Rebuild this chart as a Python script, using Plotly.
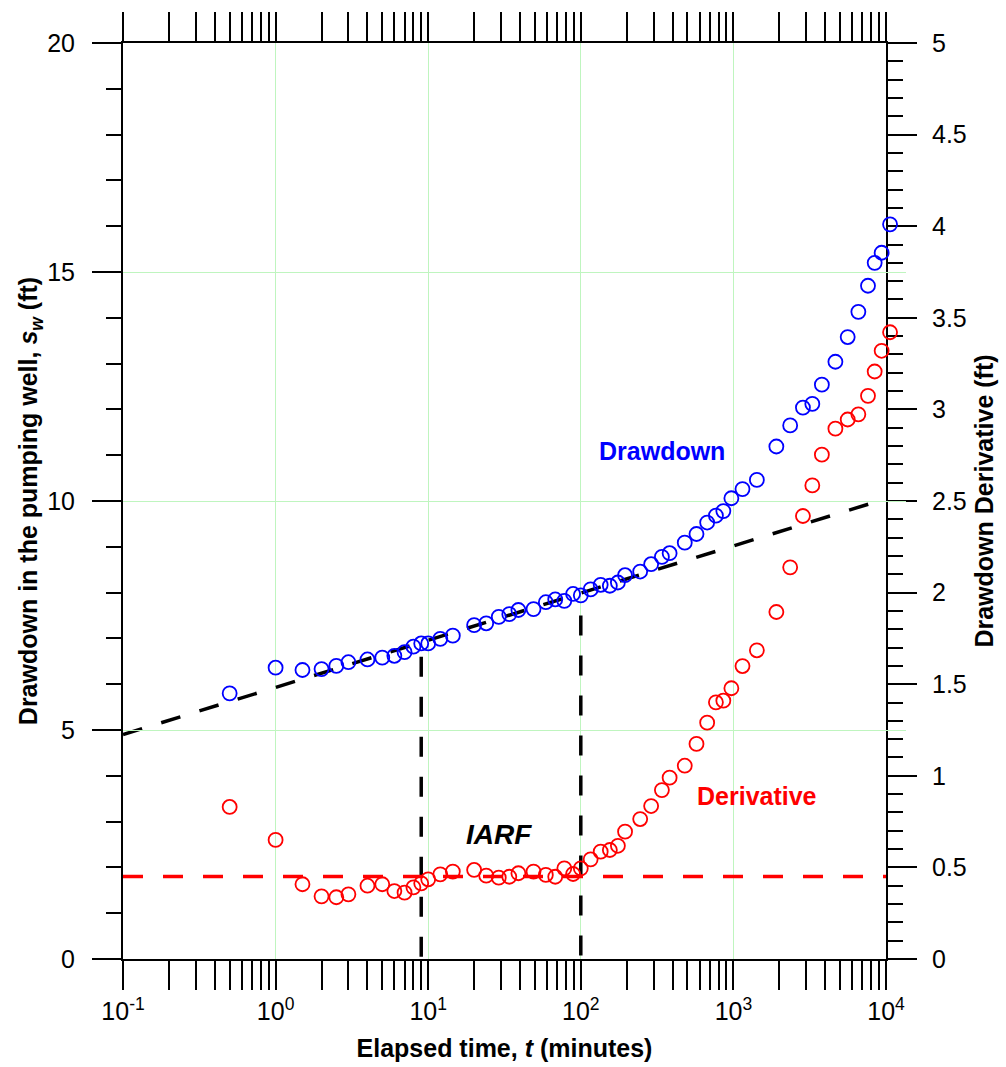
import math
import plotly.graph_objects as go

# ---------------- data ----------------
time_min = [0.5, 1, 1.5, 2, 2.5, 3, 4, 5, 6, 7,
            8, 9, 10, 12, 14.5, 20, 24, 29, 34, 39,
            49, 59, 68, 78, 89, 100, 116, 135, 155, 175,
            195, 245, 289, 340, 382, 480, 573, 673, 768, 859,
            970, 1147, 1425, 1912, 2355, 2855, 3290, 3800, 4660, 5610,
            6590, 7620, 8430, 9365, 10630]

drawdown_ft = [5.80, 6.36, 6.31, 6.33, 6.40, 6.48, 6.54, 6.58, 6.62, 6.70,
               6.82, 6.89, 6.89, 6.99, 7.06, 7.29, 7.33, 7.47, 7.53, 7.62,
               7.64, 7.79, 7.85, 7.82, 7.97, 7.94, 8.07, 8.17, 8.15, 8.22,
               8.38, 8.46, 8.62, 8.78, 8.86, 9.09, 9.28, 9.53, 9.68, 9.78,
               10.06, 10.26, 10.46, 11.19, 11.65, 12.04, 12.12, 12.54, 13.04, 13.58,
               14.13, 14.70, 15.20, 15.42, 16.04]

derivative_ft = [0.830, 0.650, 0.408, 0.342, 0.337, 0.353, 0.400, 0.408, 0.371, 0.362,
                 0.391, 0.413, 0.435, 0.462, 0.477, 0.486, 0.455, 0.444, 0.449, 0.468,
                 0.477, 0.459, 0.449, 0.495, 0.464, 0.495, 0.544, 0.586, 0.595, 0.618,
                 0.695, 0.764, 0.835, 0.922, 0.990, 1.055, 1.174, 1.290, 1.401, 1.410,
                 1.478, 1.599, 1.685, 1.894, 2.138, 2.418, 2.585, 2.753, 2.895, 2.945,
                 2.973, 3.074, 3.207, 3.320, 3.421]

# semilog straight line fit (drawdown axis)
fit_t = [0.1, 10000]
fit_s = [4.90, 10.05]

# IARF derivative level (derivative axis)
iarf_level_t = [0.1, 10000]
iarf_level = [0.45, 0.45]

# IARF bounds (vertical dashed lines): time and top drawdown
iarf_bound_t = [9, 100]
iarf_bound_top = [6.6, 7.5]

x_tickvals = [0.1, 1, 10, 100, 1000, 10000]
x_ticktext = ["10<sup>-1</sup>", "10<sup>0</sup>", "10<sup>1</sup>",
              "10<sup>2</sup>", "10<sup>3</sup>", "10<sup>4</sup>"]

# ---------------- figure ----------------
FONT = "Liberation Sans, Arial, sans-serif"
GRID = "#bff5bf"
DASH = "20px,20px"

W, H = 1006, 1067
ML, MR, MT, MB = 123, 100, 43, 108
AXIS_RIGHT_PX = 886            # where the visible axes end
plot_w = W - ML - MR
x_dom_end = (AXIS_RIGHT_PX - ML) / plot_w
x_lo, x_hi = -1, 4
# hidden marker axis: same scale, extended a bit so markers past 10^4 stay whole
x3_hi = x_lo + (x_hi - x_lo) / x_dom_end

minor_x = [m * 10 ** k for k in range(-1, 4) for m in range(2, 10)]

vx, vy = [], []
for t, top in zip(iarf_bound_t, iarf_bound_top):
    vx += [t, t, None]
    vy += [top, 0, None]

fig = go.Figure()

fig.add_trace(go.Scatter(
    x=fit_t, y=fit_s, mode="lines", xaxis="x", yaxis="y",
    line=dict(color="black", width=3.5, dash=DASH),
    showlegend=False))

fig.add_trace(go.Scatter(
    x=iarf_level_t, y=iarf_level, mode="lines", xaxis="x", yaxis="y2",
    line=dict(color="#ff0000", width=3.5, dash=DASH),
    showlegend=False))

fig.add_trace(go.Scatter(
    x=vx, y=vy, mode="lines", xaxis="x", yaxis="y",
    line=dict(color="black", width=3.5, dash=DASH),
    showlegend=False))

fig.add_trace(go.Scatter(
    x=time_min, y=drawdown_ft, mode="markers", xaxis="x3", yaxis="y",
    marker=dict(symbol="circle-open", size=14, color="#0000ff",
                line=dict(width=1.8, color="#0000ff")),
    showlegend=False))

fig.add_trace(go.Scatter(
    x=time_min, y=derivative_ft, mode="markers", xaxis="x3", yaxis="y2",
    marker=dict(symbol="circle-open", size=14, color="#ff0000",
                line=dict(width=1.8, color="#ff0000")),
    showlegend=False))

axis_common = dict(
    showline=True, linecolor="black", linewidth=2,
    ticks="outside", ticklen=29, tickwidth=2, tickcolor="black",
    tickfont=dict(size=25, color="black", family=FONT),
    zeroline=False, automargin=False,
)

fig.update_layout(
    width=W, height=H,
    margin=dict(l=ML, r=MR, t=MT, b=MB),
    plot_bgcolor="rgba(0,0,0,0)", paper_bgcolor="white",
    font=dict(family=FONT, color="black"),
    xaxis=dict(
        type="log", range=[x_lo, x_hi], domain=[0, x_dom_end], anchor="y",
        tickmode="array", tickvals=x_tickvals, ticktext=x_ticktext,
        mirror="allticks",
        showgrid=True, gridcolor=GRID, gridwidth=1,
        minor=dict(tickmode="array", tickvals=minor_x, ticks="outside",
                   ticklen=15, tickwidth=2, tickcolor="black", showgrid=False),
        title=dict(text="<b>Elapsed time, <i>t</i> (minutes)</b>",
                   font=dict(size=25, color="black", family=FONT), standoff=15),
        **axis_common),
    xaxis3=dict(
        type="log", range=[x_lo, x3_hi], domain=[0, 1], anchor="y",
        visible=False, automargin=False),
    yaxis=dict(
        range=[0, 20], tick0=0, dtick=5, anchor="x",
        ticklabelstandoff=12,
        showgrid=True, gridcolor=GRID, gridwidth=1,
        minor=dict(dtick=1, ticks="outside", ticklen=15, tickwidth=2,
                   tickcolor="black", showgrid=False),
        title=dict(text="<b>Drawdown in the pumping well, <i>s<sub>w</sub></i> (ft)</b>",
                   font=dict(size=25, color="black", family=FONT), standoff=2),
        **axis_common),
    yaxis2=dict(
        overlaying="y", side="right", anchor="x",
        range=[0, 5], tick0=0, dtick=0.5,
        ticklabelstandoff=10,
        showgrid=False,
        minor=dict(dtick=0.1, ticks="outside", ticklen=15, tickwidth=2,
                   tickcolor="black", showgrid=False),
        title=dict(text="<b>Drawdown Derivative (ft)</b>",
                   font=dict(size=25, color="black", family=FONT), standoff=10),
        **axis_common),
)

fig.add_annotation(x=math.log10(340), y=11.09, xref="x", yref="y",
                   text="<b>Drawdown</b>", showarrow=False,
                   font=dict(size=25, color="#0000ff", family=FONT))
fig.add_annotation(x=math.log10(1429), y=3.56, xref="x", yref="y",
                   text="<b>Derivative</b>", showarrow=False,
                   font=dict(size=25, color="#ff0000", family=FONT))
fig.add_annotation(x=math.log10(29), y=2.71, xref="x", yref="y",
                   text="<b><i>IARF</i></b>", showarrow=False,
                   font=dict(size=28, color="black", family=FONT))

fig.write_html("out.html")
